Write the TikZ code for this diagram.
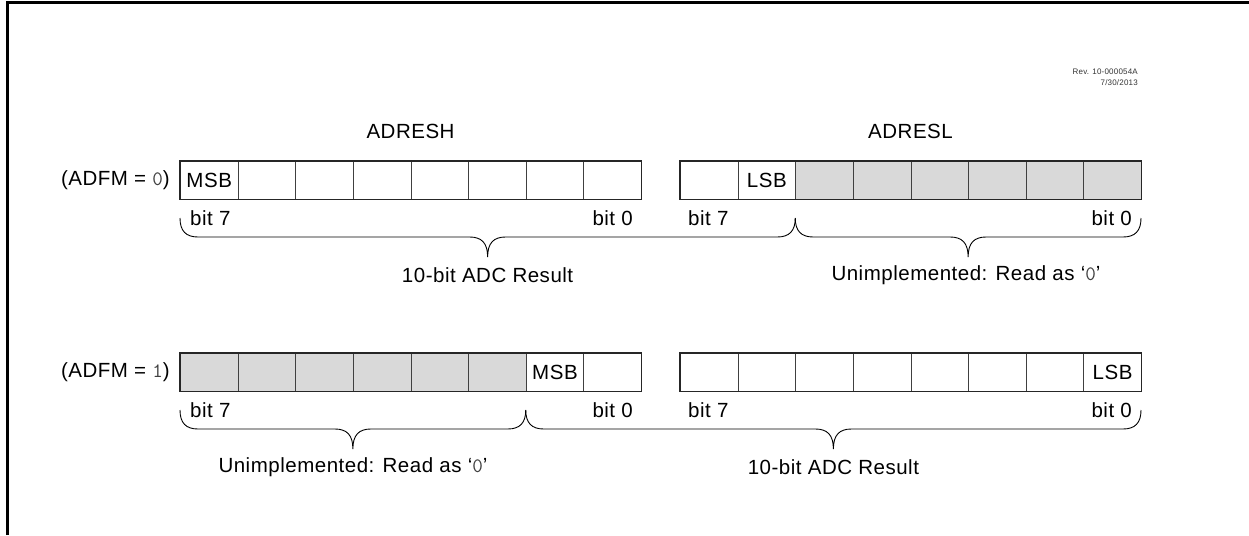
\documentclass[tikz,border=0pt]{standalone}
\usepackage{fontspec}
\setmainfont{Liberation Sans}[LetterSpace=2.5]
\newcommand\zero{{\ttfamily\color{black!75}0}}
\newcommand\one{{\ttfamily\color{black!75}1}}
\newcommand\mybrace[3]{%
  \draw[bracestyle] ({#1},{#3-19}) .. controls ({#1},{#3-6}) and ({#1+6},{#3}) .. ({#1+18},{#3})
   -- ({(#1+#2)/2-18},{#3}) .. controls ({(#1+#2)/2-6},{#3}) and ({(#1+#2)/2},{#3+6}) .. ({(#1+#2)/2},{#3+20})
   .. controls ({(#1+#2)/2},{#3+6}) and ({(#1+#2)/2+6},{#3}) .. ({(#1+#2)/2+18},{#3})
   -- ({#2-18},{#3}) .. controls ({#2-6},{#3}) and ({#2},{#3-6}) .. ({#2},{#3-19});}
\begin{document}
\begin{tikzpicture}[x=1pt,y=-1pt,
  cell/.style={draw=black!75, line width=0.8pt, minimum width=57.625pt, minimum height=38pt, inner sep=0pt, anchor=north west, font=\fontsize{20.5}{24}\selectfont},
  graycell/.style={cell, fill=black!15},
  lbl/.style={font=\fontsize{20.5}{24}\selectfont, inner sep=0pt},
  outer/.style={draw=black!85, line width=1.2pt},
  bracestyle/.style={draw=black, line width=0.9pt}]
\useasboundingbox (0,0) rectangle (1249,535);
% frame
\draw[line width=3pt] (7,535) -- (7,2.5) -- (1249,2.5);
% revision
\node[anchor=east, inner sep=0pt, font=\fontsize{8}{9}\selectfont, text=black!80] (rev) at (1138,72) {Rev. 10-000054A};
\node[anchor=east, inner sep=0pt, font=\fontsize{8}{9}\selectfont, text=black!80] (date) at (1138,83) {7/30/2013};
% titles
\node[lbl] (tH) at (410.5,131) {ADRESH};
\node[lbl] (tL) at (910.5,131) {ADRESL};
% row 1
\node[lbl, anchor=east] (r1) at (170,180) {(ADFM = \zero)};
\foreach \i in {0,...,7} {\node[cell] (a\i) at ({180+57.625*\i},161) {};}
\node[lbl] at (a0) {MSB};
\node[cell] (b0) at (680,161) {};
\node[cell] (b1) at (737.625,161) {LSB};
\foreach \i in {2,...,7} {\node[graycell] (b\i) at ({680+57.625*\i},161) {};}
\draw[outer] (a0.north west) rectangle (a7.south east);
\draw[outer] (b0.north west) rectangle (b7.south east);
\node[lbl, anchor=west] (r1b7a) at (190,218) {bit 7};
\node[lbl, anchor=east] (r1b0a) at (633,218) {bit 0};
\node[lbl, anchor=west] (r1b7b) at (688,218) {bit 7};
\node[lbl, anchor=east] (r1b0b) at (1132,218) {bit 0};
\mybrace{180}{795.25}{237}
\mybrace{795.25}{1141}{237}
\node[lbl] (res1) at (487.6,275) {10-bit ADC Result};
\node[lbl] (un1) at (966,275) {Unimplemented: Read as `\zero'};
% row 2
\node[lbl, anchor=east] (r2) at (170,372) {(ADFM = \one)};
\foreach \i in {0,...,5} {\node[graycell] (c\i) at ({180+57.625*\i},353) {};}
\node[cell] (c6) at ({180+57.625*6},353) {MSB};
\node[cell] (c7) at ({180+57.625*7},353) {};
\foreach \i in {0,...,6} {\node[cell] (d\i) at ({680+57.625*\i},353) {};}
\node[cell] (d7) at ({680+57.625*7},353) {LSB};
\draw[outer] (c0.north west) rectangle (c7.south east);
\draw[outer] (d0.north west) rectangle (d7.south east);
\node[lbl, anchor=west] (r2b7a) at (190,410) {bit 7};
\node[lbl, anchor=east] (r2b0a) at (633,410) {bit 0};
\node[lbl, anchor=west] (r2b7b) at (688,410) {bit 7};
\node[lbl, anchor=east] (r2b0b) at (1132,410) {bit 0};
\mybrace{180}{525.75}{429}
\mybrace{525.75}{1141}{429}
\node[lbl] (un2) at (353,467) {Unimplemented: Read as `\zero'};
\node[lbl] (res2) at (833.4,467) {10-bit ADC Result};
\end{tikzpicture}
\end{document}
